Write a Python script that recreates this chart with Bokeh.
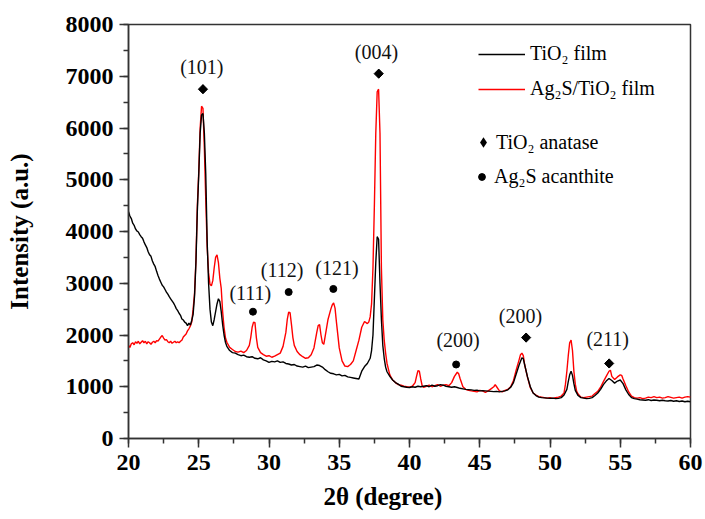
import math
from bokeh.plotting import figure
from bokeh.models import Range1d, SingleIntervalTicker, Legend, LegendItem, Title
from bokeh.embed import file_html
from bokeh.resources import INLINE
from bokeh.core.properties import value

# TiO2 film (black)
two_theta_tio2 = [20.0, 20.1, 20.2, 20.3, 20.4, 20.5, 20.6, 20.7, 20.8, 20.9, 21.0, 21.1, 21.2, 21.3, 21.4, 21.5,
                  21.6, 21.7, 21.8, 21.9, 22.0, 22.1, 22.2, 22.3, 22.4, 22.5, 22.6, 22.7, 22.8, 22.9, 23.0, 23.1,
                  23.2, 23.3, 23.4, 23.5, 23.6, 23.7, 23.8, 23.9, 24.0, 24.1, 24.2, 24.3, 24.4, 24.5, 24.6, 24.7,
                  24.8, 24.9, 25.0, 25.1, 25.2, 25.3, 25.4, 25.5, 25.6, 25.7, 25.8, 25.9, 26.0, 26.1, 26.2, 26.3,
                  26.4, 26.5, 26.6, 26.7, 26.8, 26.9, 27.0, 27.2, 27.4, 27.6, 27.8, 28.0, 28.2, 28.4, 28.6, 28.8,
                  29.0, 29.2, 29.4, 29.6, 29.8, 30.0, 30.2, 30.4, 30.6, 30.8, 31.0, 31.2, 31.4, 31.6, 31.8, 32.0,
                  32.2, 32.4, 32.6, 32.8, 33.0, 33.2, 33.4, 33.6, 33.8, 34.0, 34.2, 34.4, 34.6, 34.8, 35.0, 35.2,
                  35.4, 35.6, 35.8, 36.0, 36.2, 36.4, 36.6, 36.8, 37.0, 37.2, 37.3, 37.4, 37.5, 37.6, 37.7, 37.8,
                  37.9, 38.0, 38.1, 38.2, 38.3, 38.4, 38.6, 38.8, 39.0, 39.2, 39.4, 39.6, 39.8, 40.0, 40.2, 40.4,
                  40.6, 40.8, 41.0, 41.2, 41.4, 41.6, 41.8, 42.0, 42.2, 42.4, 42.6, 42.8, 43.0, 43.2, 43.4, 43.6,
                  43.8, 44.0, 44.2, 44.4, 44.6, 44.8, 45.0, 45.2, 45.4, 45.6, 45.8, 46.0, 46.2, 46.4, 46.6, 46.8,
                  47.0, 47.2, 47.4, 47.6, 47.8, 48.0, 48.1, 48.2, 48.4, 48.6, 48.8, 49.0, 49.2, 49.4, 49.6, 49.8,
                  50.0, 50.2, 50.4, 50.6, 50.8, 51.0, 51.2, 51.3, 51.4, 51.5, 51.6, 51.7, 51.8, 52.0, 52.2, 52.4,
                  52.6, 52.8, 53.0, 53.2, 53.4, 53.6, 53.8, 54.0, 54.2, 54.4, 54.6, 54.8, 55.0, 55.2, 55.4, 55.6,
                  55.8, 56.0, 56.2, 56.4, 56.6, 56.8, 57.0, 57.2, 57.4, 57.6, 57.8, 58.0, 58.2, 58.4, 58.6, 58.8,
                  59.0, 59.2, 59.4, 59.6, 59.8, 60.0]
intensity_tio2 = [4380, 4300, 4250, 4160, 4120, 4050, 4010, 3990, 3940, 3900, 3870, 3800, 3740, 3690, 3610, 3550,
                  3520, 3430, 3370, 3320, 3230, 3150, 3080, 3020, 2960, 2930, 2880, 2830, 2790, 2740, 2700, 2660,
                  2620, 2570, 2510, 2470, 2420, 2380, 2310, 2290, 2250, 2230, 2180, 2230, 2190, 2280, 2400, 2750,
                  3400, 4400, 5100, 5900, 6250, 6280, 5900, 5100, 3800, 3000, 2500, 2250, 2180, 2300, 2450, 2600,
                  2700, 2650, 2450, 2200, 2000, 1860, 1780, 1700, 1660, 1650, 1620, 1600, 1610, 1580, 1570, 1580,
                  1550, 1540, 1560, 1520, 1500, 1470, 1490, 1480, 1500, 1470, 1480, 1450, 1440, 1420, 1430, 1400,
                  1390, 1380, 1400, 1370, 1380, 1390, 1420, 1410, 1380, 1330, 1290, 1260, 1250, 1230, 1240, 1210,
                  1220, 1190, 1180, 1170, 1160, 1150, 1300, 1390, 1450, 1550, 1700, 2000, 2700, 3400, 3900, 3850,
                  3000, 2300, 1800, 1550, 1380, 1290, 1200, 1130, 1080, 1050, 1010, 1000, 990, 985, 1000, 990,
                  1010, 1000, 1010, 1020, 1000, 1030, 1010, 1020, 1040, 1030, 1010, 1000, 990, 1000, 985, 970,
                  960, 950, 945, 940, 930, 935, 920, 925, 920, 915, 910, 905, 910, 900, 910, 920,
                  940, 990, 1080, 1250, 1420, 1560, 1540, 1420, 1190, 1000, 880, 830, 800, 790, 785, 780,
                  775, 780, 770, 775, 790, 840, 950, 1100, 1230, 1300, 1220, 1060, 930, 830, 790, 780,
                  770, 775, 790, 830, 880, 950, 1040, 1110, 1160, 1120, 1070, 1110, 1130, 1060, 940, 850,
                  790, 770, 760, 750, 745, 740, 750, 735, 745, 740, 730, 740, 730, 725, 735, 720,
                  730, 715, 725, 710, 720, 710]

# Ag2S/TiO2 film (red)
two_theta_ag2s = [20.0, 20.1, 20.2, 20.3, 20.4, 20.5, 20.6, 20.7, 20.8, 20.9, 21.0, 21.1, 21.2, 21.3, 21.4, 21.5,
                  21.6, 21.7, 21.8, 21.9, 22.0, 22.1, 22.2, 22.3, 22.4, 22.5, 22.6, 22.7, 22.8, 22.9, 23.0, 23.1,
                  23.2, 23.3, 23.4, 23.5, 23.6, 23.7, 23.8, 23.9, 24.0, 24.1, 24.2, 24.3, 24.4, 24.5, 24.6, 24.7,
                  24.8, 24.9, 25.0, 25.1, 25.2, 25.3, 25.4, 25.5, 25.6, 25.7, 25.8, 25.9, 26.0, 26.1, 26.2, 26.3,
                  26.4, 26.5, 26.6, 26.7, 26.8, 26.9, 27.0, 27.2, 27.4, 27.6, 27.8, 28.0, 28.2, 28.4, 28.6, 28.7,
                  28.8, 28.9, 29.0, 29.1, 29.2, 29.4, 29.6, 29.8, 30.0, 30.2, 30.4, 30.6, 30.8, 31.0, 31.2, 31.3,
                  31.4, 31.5, 31.6, 31.7, 31.8, 32.0, 32.2, 32.4, 32.6, 32.8, 33.0, 33.2, 33.4, 33.5, 33.6, 33.7,
                  33.8, 33.9, 34.0, 34.2, 34.4, 34.5, 34.6, 34.7, 34.8, 35.0, 35.2, 35.4, 35.6, 35.8, 36.0, 36.2,
                  36.4, 36.6, 36.8, 37.0, 37.1, 37.2, 37.3, 37.4, 37.5, 37.6, 37.7, 37.8, 37.9, 38.0, 38.1, 38.2,
                  38.3, 38.4, 38.6, 38.8, 39.0, 39.2, 39.4, 39.6, 39.8, 40.0, 40.2, 40.4, 40.5, 40.6, 40.7, 40.8,
                  40.9, 41.0, 41.2, 41.4, 41.6, 41.8, 42.0, 42.2, 42.4, 42.6, 42.8, 43.0, 43.2, 43.4, 43.5, 43.6,
                  43.8, 44.0, 44.2, 44.4, 44.6, 44.8, 45.0, 45.2, 45.4, 45.6, 45.8, 46.0, 46.1, 46.2, 46.4, 46.6,
                  46.8, 47.0, 47.2, 47.4, 47.6, 47.8, 47.9, 48.0, 48.1, 48.2, 48.4, 48.6, 48.8, 49.0, 49.2, 49.4,
                  49.6, 49.8, 50.0, 50.2, 50.4, 50.6, 50.8, 51.0, 51.1, 51.2, 51.3, 51.4, 51.5, 51.6, 51.7, 51.8,
                  51.9, 52.0, 52.2, 52.4, 52.6, 52.8, 53.0, 53.2, 53.4, 53.6, 53.8, 54.0, 54.2, 54.3, 54.4, 54.6,
                  54.8, 55.0, 55.1, 55.2, 55.4, 55.6, 55.8, 56.0, 56.2, 56.4, 56.6, 56.8, 57.0, 57.2, 57.4, 57.6,
                  57.8, 58.0, 58.2, 58.4, 58.6, 58.8, 59.0, 59.2, 59.4, 59.6, 59.8, 60.0]
intensity_ag2s = [1800, 1760, 1830, 1850, 1810, 1870, 1840, 1880, 1830, 1860, 1890, 1850, 1880, 1830, 1870, 1850,
                  1820, 1860, 1880, 1850, 1890, 1880, 1920, 1960, 1990, 1940, 1900, 1910, 1870, 1850, 1880, 1840,
                  1860, 1880, 1850, 1870, 1850, 1880, 1900, 1960, 1990, 2020, 2080, 2120, 2170, 2250, 2500, 2800,
                  3450, 4500, 5150, 6000, 6420, 6380, 5600, 4600, 3700, 3200, 2980, 2950, 3050, 3300, 3500, 3550,
                  3400, 3100, 2900, 2450, 2150, 1950, 1860, 1760, 1720, 1680, 1670, 1690, 1660, 1700, 1800, 1950,
                  2150, 2250, 2240, 1950, 1760, 1660, 1620, 1590, 1600, 1570, 1590, 1620, 1650, 1780, 2050, 2300,
                  2440, 2430, 2200, 1950, 1800, 1680, 1620, 1580, 1550, 1560, 1620, 1750, 2050, 2180, 2200, 2000,
                  1850, 1820, 1980, 2300, 2500, 2580, 2620, 2520, 2250, 1750, 1500, 1400, 1390, 1430, 1500, 1700,
                  1900, 2150, 2260, 2220, 2250, 2350, 2600, 3300, 4500, 5900, 6700, 6750, 5900, 3300, 2300, 1900,
                  1650, 1450, 1230, 1130, 1080, 1040, 1030, 1010, 1000, 990, 1010, 1080, 1200, 1310, 1300, 1150,
                  1020, 990, 1010, 1030, 1000, 1020, 1040, 1010, 1030, 1040, 1020, 1080, 1200, 1280, 1250, 1160,
                  1000, 950, 930, 920, 910, 900, 930, 920, 890, 920, 960, 1000, 1040, 1000, 920, 900,
                  930, 950, 1000, 1120, 1330, 1520, 1620, 1650, 1600, 1420, 1180, 980, 880, 840, 810, 800,
                  790, 780, 790, 775, 790, 800, 820, 880, 1050, 1300, 1600, 1850, 1900, 1700, 1300, 1050,
                  910, 860, 800, 790, 800, 810, 820, 870, 910, 990, 1100, 1200, 1300, 1320, 1200, 1140,
                  1190, 1230, 1220, 1150, 1020, 900, 820, 790, 780, 790, 770, 780, 800, 790, 810, 790,
                  800, 780, 790, 810, 795, 780, 790, 800, 780, 800, 810, 800]

# Peak markers and Miller-index labels
anatase_x = [25.30, 37.81, 48.30, 54.21]
anatase_y = [6750, 7050, 1950, 1450]
acanthite_x = [28.86, 31.40, 34.58, 43.32]
acanthite_y = [2450, 2830, 2890, 1430]
hkl_labels = ["(101)", "(004)", "(200)", "(211)", "(111)", "(112)", "(121)", "(200)"]
hkl_x = [25.22, 37.65, 47.90, 54.11, 28.67, 30.93, 34.84, 43.46]
hkl_y = [7170, 7460, 2366, 1921, 2805, 3255, 3288, 1900]

x_ticks_interval = 5
y_ticks_interval = 1000

SERIF = "Liberation Serif"

p = figure(width=705, height=519, x_range=Range1d(20, 60), y_range=Range1d(0, 8000),
           output_backend="svg", toolbar_location=None,
           min_border_left=128, min_border_right=15, min_border_top=24, min_border_bottom=81)
p.xgrid.visible = False
p.ygrid.visible = False
p.outline_line_color = "#333333"
p.outline_line_width = 1.5
p.background_fill_color = "white"
p.border_fill_color = "white"

p.xaxis.ticker = SingleIntervalTicker(interval=x_ticks_interval, num_minor_ticks=2)
p.yaxis.ticker = SingleIntervalTicker(interval=y_ticks_interval, num_minor_ticks=2)
for ax in (p.xaxis, p.yaxis):
    ax.axis_line_color = "#333333"
    ax.axis_line_width = 1.5
    ax.major_tick_line_color = "#333333"
    ax.minor_tick_line_color = "#333333"
    ax.major_tick_line_width = 1.5
    ax.minor_tick_line_width = 1.5
    ax.major_tick_out = 9
    ax.major_tick_in = 0
    ax.minor_tick_out = 5
    ax.minor_tick_in = 0
    ax.major_label_text_font = SERIF
    ax.major_label_text_font_size = "24px"
    ax.major_label_text_font_style = "bold"
    ax.major_label_text_color = "black"
p.xaxis.major_label_standoff = 7
p.yaxis.major_label_standoff = 6
p.yaxis.axis_label = "Intensity (a.u.)"
p.yaxis.axis_label_text_font = SERIF
p.yaxis.axis_label_text_font_size = "25px"
p.yaxis.axis_label_text_font_style = "bold"
p.yaxis.axis_label_text_color = "black"
p.yaxis.axis_label_standoff = 30

r_red = p.line(two_theta_ag2s, intensity_ag2s, line_color="#ff0000", line_width=1.4)
r_black = p.line(two_theta_tio2, intensity_tio2, line_color="black", line_width=1.4)

# diamond-marker copy (hidden under the rotated squares) that supplies the legend swatch
r_dia_key = p.scatter(anatase_x, anatase_y, marker="diamond", size=9.2,
                      fill_color="black", line_color="black", line_width=0)
r_dia = p.scatter(anatase_x, anatase_y, marker="square", angle=math.pi / 4, size=6.5,
                  fill_color="black", line_color="black")
r_dot = p.scatter(acanthite_x, acanthite_y, marker="circle", size=7,
                  fill_color="black", line_color="black")

p.text(x=hkl_x, y=hkl_y, text=hkl_labels, text_font=value(SERIF), text_font_size="20px",
       text_align="center", text_baseline="middle", text_color="#111111")

xtitle = Title(text="2θ (degree)", align="left", offset=195, standoff=16,
               text_font=SERIF, text_font_size="25px", text_font_style="bold", text_color="black")
p.add_layout(xtitle, "below")

common = dict(border_line_alpha=0, background_fill_alpha=0, padding=0, margin=0,
              label_text_font=SERIF, label_text_font_size="20px", label_text_color="black",
              label_height=20)
leg1 = Legend(items=[LegendItem(label="TiO₂ film", renderers=[r_black]),
                     LegendItem(label="Ag₂S/TiO₂ film", renderers=[r_red])],
              location=(350, 338), glyph_width=47, glyph_height=20, label_standoff=5, spacing=12, **common)
leg2 = Legend(items=[LegendItem(label="TiO₂ anatase", renderers=[r_dia_key])],
              location=(342, 283), glyph_width=26, glyph_height=26, label_standoff=0, **common)
leg3 = Legend(items=[LegendItem(label="Ag₂S acanthite", renderers=[r_dot])],
              location=(345, 250), glyph_width=17, glyph_height=17, label_standoff=4, **common)
p.add_layout(leg1)
p.add_layout(leg2)
p.add_layout(leg3)

open("out.html", "w").write(file_html(p, INLINE))
